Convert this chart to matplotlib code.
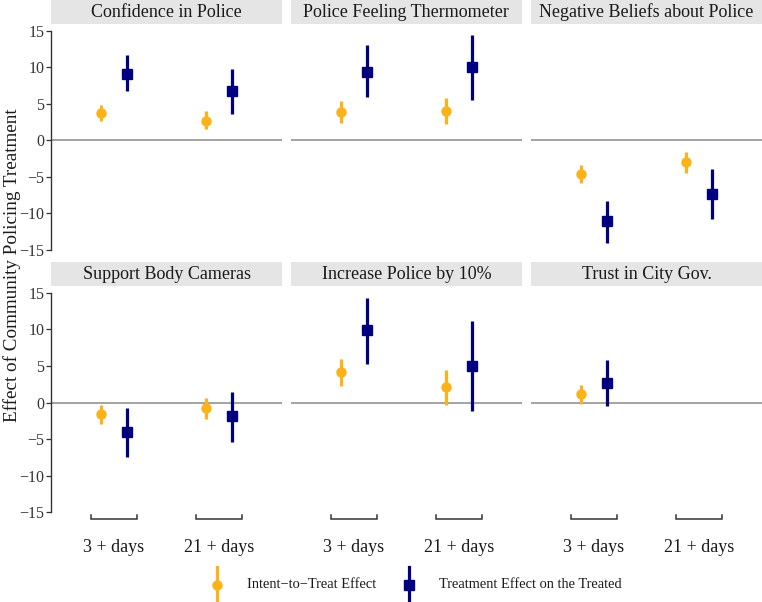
import numpy as np
import matplotlib
matplotlib.use("Agg")
import matplotlib.pyplot as plt
from matplotlib.lines import Line2D
from matplotlib.patches import Rectangle

plt.rcParams['font.family'] = ['Liberation Serif', 'DejaVu Serif']

# ---- data ----
panels = ["Confidence in Police", "Police Feeling Thermometer", "Negative Beliefs about Police",
          "Support Body Cameras", "Increase Police by 10%", "Trust in City Gov."]
periods = ["3 + days", "21 + days"]
series = ["Intent\u2212to\u2212Treat Effect", "Treatment Effect on the Treated"]

itt_est = [[3.8, 2.7], [3.9, 4.0], [-4.6, -3.0], [-1.6, -0.7], [4.1, 2.1], [1.1, np.nan]]
itt_lo  = [[2.7, 1.5], [2.4, 2.2], [-5.8, -4.5], [-3.0, -2.2], [2.2, -0.4], [-0.2, np.nan]]
itt_hi  = [[4.8, 4.0], [5.4, 5.8], [-3.4, -1.6], [-0.3, 0.6], [5.9, 4.5], [2.4, np.nan]]

tot_est = [[9.1, 6.7], [9.4, 10.0], [-11.1, -7.3], [-4.0, -1.9], [9.9, 5.0], [2.7, np.nan]]
tot_lo  = [[6.7, 3.6], [5.9, 5.5], [-14.0, -10.8], [-7.4, -5.4], [5.3, -1.1], [-0.5, np.nan]]
tot_hi  = [[11.6, 9.8], [13.0, 14.4], [-8.3, -3.9], [-0.7, 1.5], [14.3, 11.1], [5.8, np.nan]]

y_ticks = [-15, -10, -5, 0, 5, 10, 15]

# ---- style ----
W, H = 762, 602
ORANGE = "#FCB31A"
NAVY = "#000080"
STRIP = "#E5E5E5"
AXC = "#333333"

fig = plt.figure(figsize=(W / 100, H / 100), dpi=100)

col_x = [(50.7, 282.3), (291.0, 521.7), (531.0, 762.0)]
row_y = [(24.0, 256.6), (286.0, 519.0)]
strip_h = 24.0

x_pos = np.arange(1, len(periods) + 1)
dodge = 0.125

def px2fig(x0, x1, y0, y1):
    return [x0 / W, 1 - y1 / H, (x1 - x0) / W, (y1 - y0) / H]

for i, name in enumerate(panels):
    r, c = divmod(i, 3)
    x0, x1 = col_x[c]
    y0, y1 = row_y[r]
    ax = fig.add_axes(px2fig(x0, x1, y0, y1))
    ax.set_xlim(0.4, 2.6)
    ax.set_ylim(-15.9, 15.9)
    for s in ax.spines.values():
        s.set_visible(False)
    ax.axhline(0, color="#8a8a8a", lw=1.1, zorder=1)

    e = np.array(itt_est[i]); lo = np.array(itt_lo[i]); hi = np.array(itt_hi[i])
    ax.vlines(x_pos - dodge, lo, hi, color=ORANGE, lw=2.3, zorder=3)
    ax.plot(x_pos - dodge, e, 'o', color=ORANGE, ms=6.5, zorder=4)
    e = np.array(tot_est[i]); lo = np.array(tot_lo[i]); hi = np.array(tot_hi[i])
    ax.vlines(x_pos + dodge, lo, hi, color=NAVY, lw=2.3, zorder=3)
    ax.plot(x_pos + dodge, e, 's', color=NAVY, ms=6.5, zorder=4)

    # y axis only on first column
    if c == 0:
        ax.set_yticks(y_ticks)
        ax.set_yticklabels([str(t).replace('-', '\u2212') for t in y_ticks])
        ax.tick_params(axis='y', length=3.5, width=0.9, color=AXC, labelsize=11.5,
                       labelcolor="#333333", pad=1)
        trans = ax.get_yaxis_transform()
        ax.plot([0, 0], [y_ticks[0], y_ticks[-1]], color=AXC, lw=1.0, transform=trans,
                clip_on=False)
    else:
        ax.set_yticks([])
    ax.set_xticks([])

    # x brackets on bottom row
    if r == 1:
        trans = ax.get_xaxis_transform()
        tk = 4.0 / (y1 - y0)
        for xp in x_pos:
            ax.plot([xp - 0.22, xp - 0.22, xp + 0.22, xp + 0.22], [tk, 0, 0, tk],
                    color=AXC, lw=1.1, transform=trans, clip_on=False,
                    solid_joinstyle='miter')
            ax.annotate(periods[xp - 1], xy=(xp, 0), xycoords=trans,
                        xytext=(0, -20.5), textcoords='offset points',
                        ha='center', va='center', fontsize=13, color="#1a1a1a")

    # strip
    sax = fig.add_axes(px2fig(x0, x1, y0 - strip_h, y0))
    sax.set_xlim(0, 1); sax.set_ylim(0, 1)
    sax.axis('off')
    sax.add_patch(Rectangle((0, 0), 1, 1, color=STRIP, transform=sax.transAxes))
    sax.text(0.5, 0.48, name, ha='center', va='center', fontsize=13, color="#1a1a1a")

# y label
fig.text(12 / W, 1 - 265 / H, "Effect of Community Policing Treatment", rotation=90,
         ha='center', va='center', fontsize=13.8, color="#1a1a1a")

# legend (manual, in pixel coordinates)
lax = fig.add_axes([0, 0, 1, 1], facecolor='none')
lax.set_xlim(0, W); lax.set_ylim(H, 0)
lax.axis('off')
ly = 585
lax.add_line(Line2D([216.7, 216.7], [567, 603], color=ORANGE, lw=2.3, clip_on=False))
lax.plot([216.7], [ly], 'o', color=ORANGE, ms=6.5)
lax.text(246.7, ly, series[0], ha='left', va='center', fontsize=10.4, color="#1a1a1a")
lax.add_line(Line2D([409, 409], [567, 603], color=NAVY, lw=2.3, clip_on=False))
lax.plot([409], [ly], 's', color=NAVY, ms=6.5)
lax.text(439.3, ly, series[1], ha='left', va='center', fontsize=10.4, color="#1a1a1a")

fig.savefig("out.png", dpi=100, facecolor="white")
